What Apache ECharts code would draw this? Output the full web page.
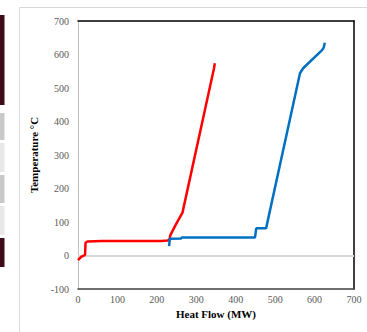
<!DOCTYPE html>
<html>
<head>
<meta charset="utf-8">
<script src="https://cdn.jsdelivr.net/npm/echarts@6/dist/echarts.min.js"></script>
<style>
  html, body { margin: 0; padding: 0; background: #fff; }
  #chart { width: 367px; height: 332px; }
</style>
</head>
<body>
<div id="chart"></div>
<script>
// [heat flow MW, temperature °C]
const redCurve = [
  [0, -14], [8, -4], [18, 2], [19, 38], [24, 42], [60, 43], [212, 43],
  [228, 45], [232, 48], [234, 60], [248, 92], [265, 128], [345, 559], [347, 574],
];
const blueCurve = [
  [231, 28], [233, 50], [262, 51], [263, 54], [449, 54], [452, 81], [477, 81],
  [563, 544], [571, 559], [619, 613], [623, 620], [626, 635],
];
const xTicks = { min: 0, max: 700, step: 100 };
const yTicks = { min: -100, max: 700, step: 100 };

const serif = "'Liberation Serif', 'Times New Roman', serif";
const chart = echarts.init(document.getElementById("chart"), null, { renderer: "svg" });

chart.setOption({
  animation: false,
  grid: { left: 78, right: 13, top: 21, bottom: 43 },
  graphic: [
    { type: "rect", shape: { x: 19.5, y: 7.5, width: 360, height: 340 },
      style: { fill: "none", stroke: "#d9d9d9", lineWidth: 1 } },
    { type: "rect", shape: { x: 0, y: 15, width: 4.5, height: 90 }, style: { fill: "#3f0a19" } },
    { type: "rect", shape: { x: 0, y: 113, width: 4.5, height: 27 }, style: { fill: "#c9c9c9" } },
    { type: "rect", shape: { x: 0, y: 143, width: 4.5, height: 29 }, style: { fill: "#e8e8e8" } },
    { type: "rect", shape: { x: 0, y: 175, width: 4.5, height: 28 }, style: { fill: "#c9c9c9" } },
    { type: "rect", shape: { x: 0, y: 206, width: 4.5, height: 29 }, style: { fill: "#e8e8e8" } },
    { type: "rect", shape: { x: 0, y: 238, width: 4.5, height: 29 }, style: { fill: "#3f0a19" } },
  ],
  xAxis: [
    {
      type: "value",
      min: xTicks.min, max: xTicks.max, interval: xTicks.step,
      name: "Heat Flow (MW)",
      nameLocation: "middle",
      nameGap: 18,
      nameTextStyle: { fontFamily: serif, fontWeight: "bold", fontSize: 11, color: "#000" },
      axisLine: { onZero: false, lineStyle: { color: "#404040", width: 1.5 } },
      axisTick: { show: false },
      axisLabel: { fontFamily: serif, fontSize: 10, color: "#595959", margin: 5 },
      splitLine: { show: false },
    },
    {
      type: "value", position: "top",
      min: xTicks.min, max: xTicks.max,
      axisLine: { show: true, onZero: false, lineStyle: { color: "#000", width: 1.5 } },
      axisTick: { show: false }, axisLabel: { show: false }, splitLine: { show: false },
    },
  ],
  yAxis: [
    {
      type: "value",
      min: yTicks.min, max: yTicks.max, interval: yTicks.step,
      name: "Temperature °C",
      nameLocation: "middle",
      nameGap: 25,
      nameTextStyle: { fontFamily: serif, fontWeight: "bold", fontSize: 11, color: "#000" },
      axisLine: { show: true, onZero: false, lineStyle: { color: "#bfbfbf", width: 1 } },
      axisTick: { show: false },
      axisLabel: { fontFamily: serif, fontSize: 10, color: "#595959", margin: 9 },
      splitLine: { show: false },
    },
    {
      type: "value", position: "right",
      min: yTicks.min, max: yTicks.max,
      axisLine: { show: true, onZero: false, lineStyle: { color: "#000", width: 1.5 } },
      axisTick: { show: false }, axisLabel: { show: false }, splitLine: { show: false },
    },
  ],
  series: [
    {
      type: "line",
      data: redCurve,
      showSymbol: false,
      lineStyle: { color: "#ff0000", width: 2.5 },
      z: 3,
      markLine: {
        silent: true,
        symbol: "none",
        label: { show: false },
        lineStyle: { color: "#d9d9d9", width: 2, type: "solid" },
        data: [{ yAxis: 0 }],
        z: 1,
      },
    },
    {
      type: "line",
      data: blueCurve,
      showSymbol: false,
      lineStyle: { color: "#0070c0", width: 2.5 },
      z: 4,
    },
  ],
});
</script>
</body>
</html>
